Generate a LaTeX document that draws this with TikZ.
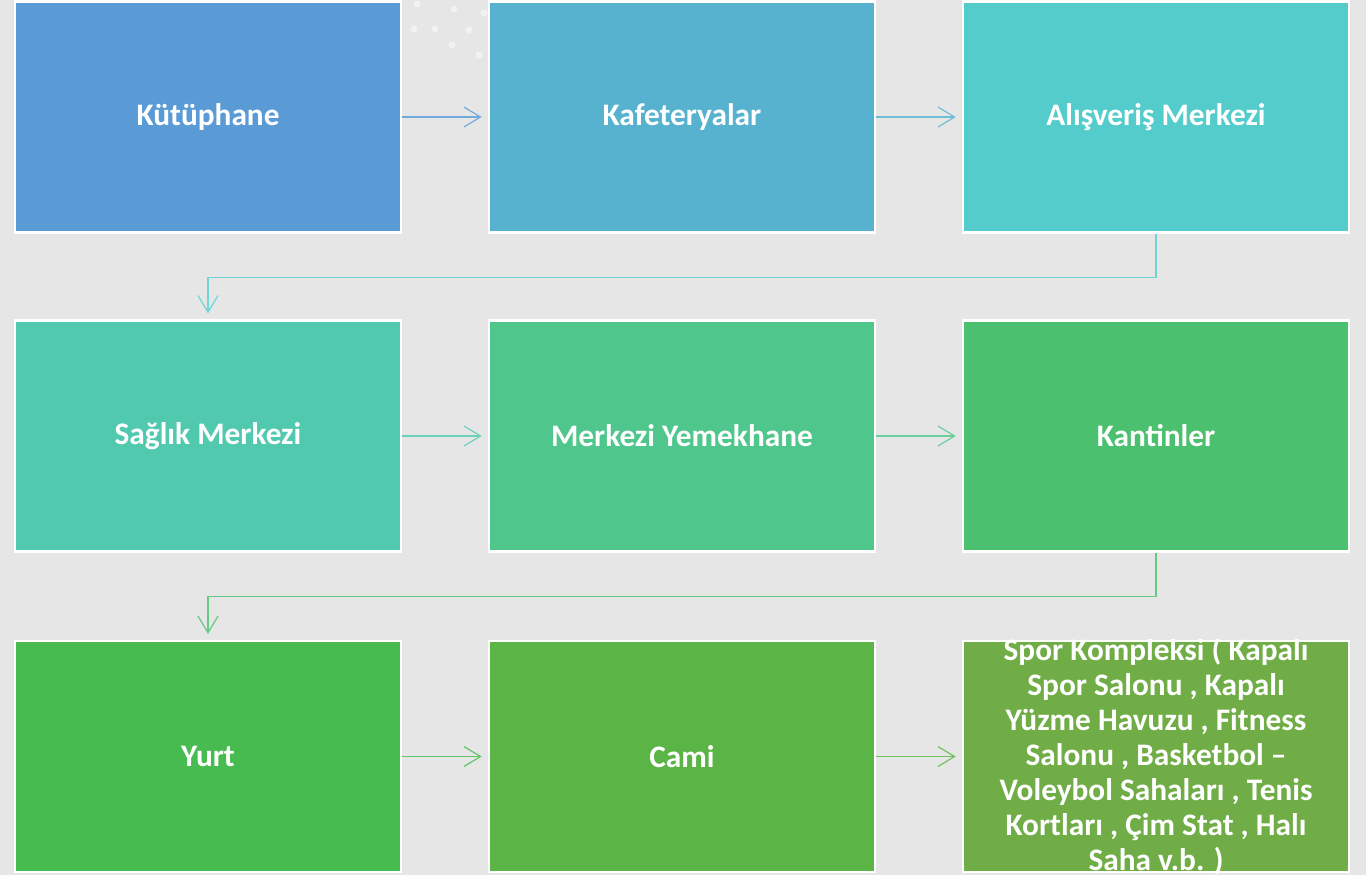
\documentclass[tikz,border=0pt]{standalone}
\usepackage{fontspec}
\setmainfont{Carlito}
\usetikzlibrary{arrows.meta}
\definecolor{bg}{RGB}{230,230,230}
\definecolor{cA}{RGB}{91,155,213}
\definecolor{cB}{RGB}{86,178,207}
\definecolor{cC}{RGB}{85,204,204}
\definecolor{cD}{RGB}{81,201,175}
\definecolor{cE}{RGB}{79,198,140}
\definecolor{cF}{RGB}{75,192,110}
\definecolor{cG}{RGB}{72,187,80}
\definecolor{cH}{RGB}{91,180,70}
\definecolor{cI}{RGB}{112,173,71}
\tikzset{
  stagebox/.style={draw=white, line width=1.9pt, minimum width=289.5pt, minimum height=173pt,
    inner sep=0pt, text=white, font=\fontsize{23.5}{26.25}\selectfont\bfseries, align=center},
  conn/.style={line width=0.9pt, -{Straight Barb[length=12.5pt,width=15pt,line width=0.9pt]}, shorten >=4.5pt},
  dot/.style={fill=white, fill opacity=0.5, draw=none}
}
\begin{document}
\begin{tikzpicture}[x=0.75pt,y=-0.75pt]
\useasboundingbox (0,0) rectangle (1366,875);
\fill[bg] (0,0) rectangle (1366,875);
% decorative dots
\foreach \p in {(417,4),(454,9),(484,13),(414,29),(435,29),(469,30),(452,45),(479,55)}
  \fill[dot] \p circle (3.5);
% boxes
\node[stagebox, fill=cA] (a) at (208,117) {Kütüphane};
\node[stagebox, fill=cB] (b) at (682,117) {Kafeteryalar};
\node[stagebox, fill=cC] (c) at (1156,117) {Alışveriş Merkezi};
\node[stagebox, fill=cD] (d) at (208,436) {Sağlık Merkezi};
\node[stagebox, fill=cE] (e) at (682,436) {Merkezi Yemekhane};
\node[stagebox, fill=cF] (f) at (1156,436) {Kantinler};
\node[stagebox, fill=cG] (g) at (208,756.5) {Yurt};
\node[stagebox, fill=cH] (h) at (682,756.5) {Cami};
\node[stagebox, fill=cI] (i) at (1156,756.5) {};
\begin{scope}
  \clip (i.north west) rectangle (i.south east);
  \node[stagebox, draw=none, fill=none] (itext) at (i.center) {Spor Kompleksi ( Kapalı\\Spor Salonu , Kapalı\\Yüzme Havuzu , Fitness\\Salonu , Basketbol –\\Voleybol Sahaları , Tenis\\Kortları , Çim Stat , Halı\\Saha v.b. )};
\end{scope}
% connectors
\draw[conn, draw=cA!85!white] (a) -- (b);
\draw[conn, draw=cB!85!white] (b) -- (c);
\draw[conn, draw=cC!85!white] (c.south) -- ++(0,44) -| (d.north);
\draw[conn, draw=cD!85!white] (d) -- (e);
\draw[conn, draw=cE!85!white] (e) -- (f);
\draw[conn, draw=cF!85!white] (f.south) -- ++(0,44) -| (g.north);
\draw[conn, draw=cG!85!white] (g) -- (h);
\draw[conn, draw=cH!85!white] (h) -- (i);
\end{tikzpicture}
\end{document}
